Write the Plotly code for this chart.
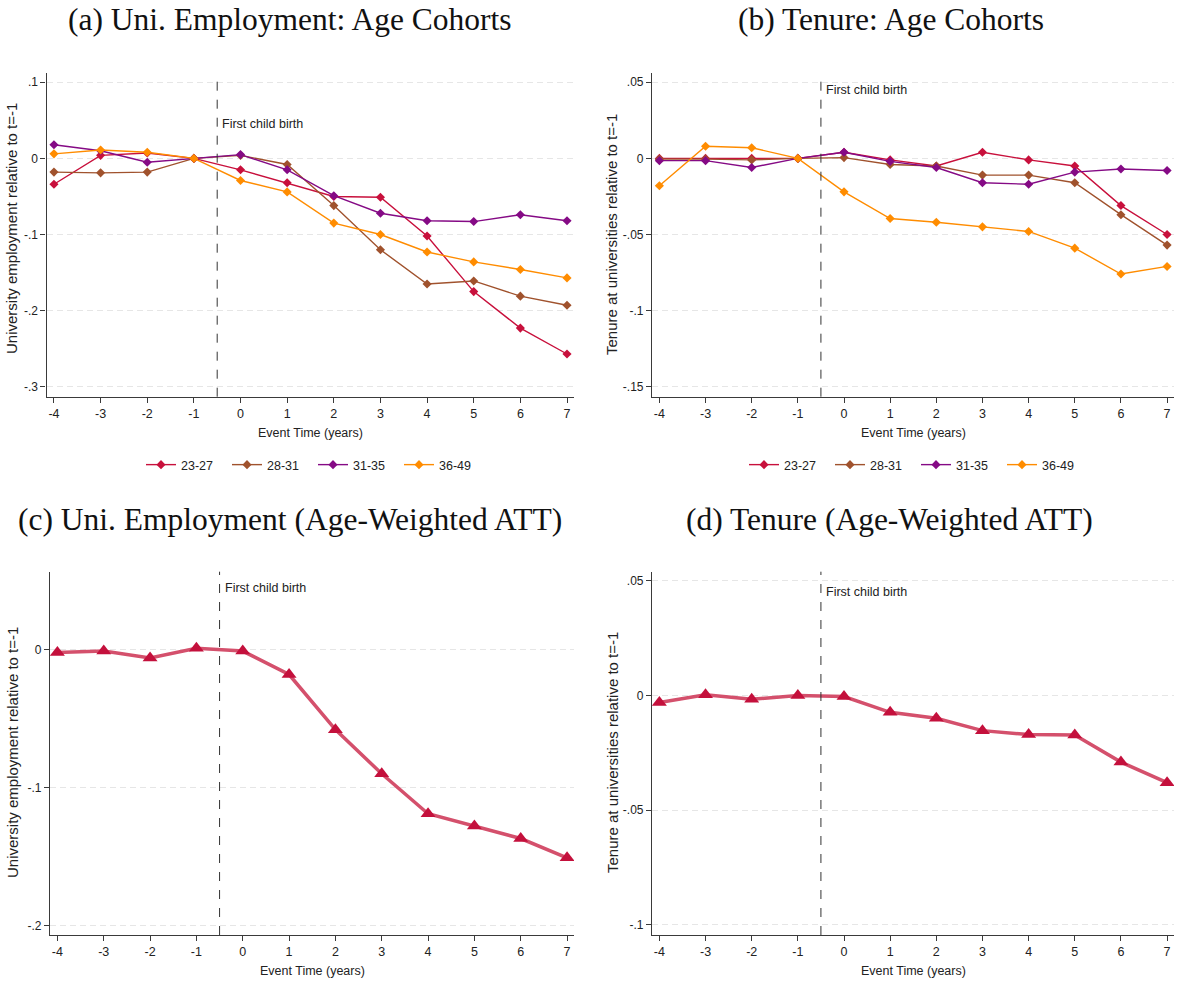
import plotly.graph_objects as go

# ---------------- data ----------------
event_time = [-4, -3, -2, -1, 0, 1, 2, 3, 4, 5, 6, 7]
cohorts = ["23-27", "28-31", "31-35", "36-49"]

emp_23_27 = [-0.034, 0.004, 0.007, 0.0, -0.015, -0.032, -0.050, -0.051, -0.102, -0.175, -0.223, -0.257]
emp_28_31 = [-0.018, -0.019, -0.018, 0.0, 0.004, -0.008, -0.062, -0.120, -0.165, -0.161, -0.181, -0.193]
emp_31_35 = [0.018, 0.010, -0.005, 0.0, 0.005, -0.015, -0.049, -0.072, -0.082, -0.083, -0.074, -0.082]
emp_36_49 = [0.006, 0.011, 0.008, 0.0, -0.029, -0.044, -0.085, -0.100, -0.123, -0.136, -0.146, -0.157]

ten_23_27 = [0.0, 0.0, 0.0, 0.0, 0.004, -0.001, -0.005, 0.004, -0.001, -0.005, -0.031, -0.050]
ten_28_31 = [-0.0005, -0.0005, -0.001, 0.0, 0.0005, -0.004, -0.005, -0.011, -0.011, -0.016, -0.037, -0.057]
ten_31_35 = [-0.0015, -0.0015, -0.006, 0.0, 0.004, -0.002, -0.006, -0.016, -0.017, -0.009, -0.007, -0.008]
ten_36_49 = [-0.018, 0.008, 0.007, 0.0, -0.022, -0.0395, -0.042, -0.045, -0.048, -0.059, -0.076, -0.071]

att_emp = [-0.002, -0.001, -0.006, 0.001, -0.001, -0.018, -0.058, -0.090, -0.119, -0.128, -0.137, -0.151]
att_ten = [-0.003, 0.0003, -0.0016, 0.0, -0.0004, -0.0073, -0.0099, -0.0153, -0.017, -0.0172, -0.029, -0.038]

yticks_a = [-0.3, -0.2, -0.1, 0.0, 0.1]
ylabels_a = ["-.3", "-.2", "-.1", "0", ".1"]
yticks_b = [-0.15, -0.1, -0.05, 0.0, 0.05]
ylabels_b = ["-.15", "-.1", "-.05", "0", ".05"]
yticks_c = [-0.2, -0.1, 0.0]
ylabels_c = ["-.2", "-.1", "0"]
yticks_d = [-0.1, -0.05, 0.0, 0.05]
ylabels_d = ["-.1", "-.05", "0", ".05"]

titles = ["(a) Uni. Employment: Age Cohorts", "(b) Tenure: Age Cohorts",
          "(c) Uni. Employment (Age-Weighted ATT)", "(d) Tenure (Age-Weighted ATT)"]
ylab_emp = "University employment relative to t=-1"
ylab_ten = "Tenure at universities relative to t=-1"
xlab = "Event Time (years)"
event_label = "First child birth"
event_x = -0.5

# ---------------- style ----------------
W, H = 1177, 984
NARROW = "Liberation Sans, Arial, sans-serif"
SANS = "Liberation Sans, Arial, sans-serif"
SERIF = "Liberation Serif, Times New Roman, serif"
cohort_colors = ["#C8103C", "#A0522D", "#850A85", "#FF8C00"]
att_line = "#D4506C"
att_marker = "#C4103C"
axis_col = "#3a3a3a"
txt_col = "#222"

def px_x(a, b):
    return [a / W, b / W]

def px_y(top, bottom):
    return [1 - bottom / H, 1 - top / H]

dom = {
    "a": (px_x(46.5, 574), px_y(72.7, 396.7)),
    "b": (px_x(652, 1174), px_y(72.7, 396.7)),
    "c": (px_x(50, 574), px_y(571.7, 935)),
    "d": (px_x(652, 1174), px_y(571.7, 935)),
}
yr = {
    "a": [-0.3131, 0.1126],
    "b": [-0.1566, 0.0563],
    "c": [-0.207, 0.0566],
    "d": [-0.1044, 0.054],
}
xr = [-4.16, 7.15]

fig = go.Figure()

emp_series = [emp_23_27, emp_28_31, emp_31_35, emp_36_49]
ten_series = [ten_23_27, ten_28_31, ten_31_35, ten_36_49]

for name, vals, col in zip(cohorts, emp_series, cohort_colors):
    fig.add_trace(go.Scatter(x=event_time, y=vals, mode="lines+markers", name=name,
                             line=dict(color=col, width=1.4),
                             marker=dict(symbol="diamond", size=7, color=col),
                             xaxis="x", yaxis="y", legend="legend"))
for name, vals, col in zip(cohorts, ten_series, cohort_colors):
    fig.add_trace(go.Scatter(x=event_time, y=vals, mode="lines+markers", name=name,
                             line=dict(color=col, width=1.4),
                             marker=dict(symbol="diamond", size=7, color=col),
                             xaxis="x2", yaxis="y2", legend="legend2"))

fig.add_trace(go.Scatter(x=event_time, y=att_emp, mode="lines+markers", showlegend=False,
                         line=dict(color=att_line, width=3.5),
                         marker=dict(symbol="triangle-up", size=13, color=att_marker),
                         xaxis="x3", yaxis="y3"))
fig.add_trace(go.Scatter(x=event_time, y=att_ten, mode="lines+markers", showlegend=False,
                         line=dict(color=att_line, width=3.5),
                         marker=dict(symbol="triangle-up", size=13, color=att_marker),
                         xaxis="x4", yaxis="y4"))

def xaxis_cfg(key, anchor):
    return dict(domain=dom[key][0], range=xr, anchor=anchor,
                tickvals=event_time, ticktext=[str(v) for v in event_time],
                showgrid=False, zeroline=False, showline=True, linecolor=axis_col, linewidth=1.2,
                ticks="outside", ticklen=5, tickcolor=axis_col, tickwidth=1,
                tickfont=dict(family=NARROW, size=12.5, color=txt_col), fixedrange=True)

def yaxis_cfg(key, anchor, tv, tt):
    return dict(domain=dom[key][1], range=yr[key], anchor=anchor,
                tickvals=tv, ticktext=tt,
                showgrid=True, gridcolor="#e6e6e6", gridwidth=1, griddash="6px,4px",
                zeroline=False, showline=True, linecolor=axis_col, linewidth=1.2,
                ticks="outside", ticklen=5, tickcolor=axis_col, tickwidth=1,
                tickfont=dict(family=NARROW, size=12, color=txt_col), fixedrange=True)

leg_common = dict(orientation="h", y=1 - 465 / H, yanchor="middle",
                  font=dict(family=NARROW, size=12.5, color=txt_col),
                  entrywidth=41, entrywidthmode="pixels", bgcolor="rgba(0,0,0,0)")

fig.update_layout(
    width=W, height=H, margin=dict(l=0, r=0, t=0, b=0),
    paper_bgcolor="white", plot_bgcolor="white",
    xaxis=xaxis_cfg("a", "y"), yaxis=yaxis_cfg("a", "x", yticks_a, ylabels_a),
    xaxis2=xaxis_cfg("b", "y2"), yaxis2=yaxis_cfg("b", "x2", yticks_b, ylabels_b),
    xaxis3=xaxis_cfg("c", "y3"), yaxis3=yaxis_cfg("c", "x3", yticks_c, ylabels_c),
    xaxis4=xaxis_cfg("d", "y4"), yaxis4=yaxis_cfg("d", "x4", yticks_d, ylabels_d),
    legend=dict(x=313 / W, xanchor="center", **leg_common),
    legend2=dict(x=916 / W, xanchor="center", **leg_common),
    showlegend=True,
)

axes_ids = [("x", "y"), ("x2", "y2"), ("x3", "y3"), ("x4", "y4")]
for xa, ya in axes_ids:
    fig.add_shape(type="line", xref=xa, yref=f"{ya} domain", x0=event_x, x1=event_x, y0=0, y1=1,
                  line=dict(color="#333", width=1, dash="dash"))
    fig.add_annotation(xref=xa, yref=ya, x=event_x, y=0.045, text=event_label, showarrow=False,
                       xanchor="left", yanchor="middle", xshift=3,
                       font=dict(family=NARROW, size=12.5, color=txt_col))

# panel titles
title_pos = [(290, 20), (891, 20), (290, 519), (889, 519)]
for t, (cx, cy) in zip(titles, title_pos):
    fig.add_annotation(xref="paper", yref="paper", x=cx / W, y=1 - cy / H, text=t, showarrow=False,
                       xanchor="center", yanchor="middle", font=dict(family=SERIF, size=31.5, color="#111"))

# y-axis titles
ylab_pos = [(12, 229, ylab_emp), (612, 235, ylab_ten), (12, 753, ylab_emp), (612, 753, ylab_ten)]
for cx, cy, t in ylab_pos:
    fig.add_annotation(xref="paper", yref="paper", x=cx / W, y=1 - cy / H, text=t, showarrow=False,
                       textangle=-90, xanchor="center", yanchor="middle",
                       font=dict(family=SANS, size=15, color=txt_col))

# x-axis titles
xlab_pos = [(310, 433), (913, 433), (312, 971), (913, 971)]
for cx, cy in xlab_pos:
    fig.add_annotation(xref="paper", yref="paper", x=cx / W, y=1 - cy / H, text=xlab, showarrow=False,
                       xanchor="center", yanchor="middle", font=dict(family=NARROW, size=12.5, color=txt_col))

fig.write_html("out.html", config={"displayModeBar": False},
               post_script="document.body.style.margin='0';document.body.style.overflow='hidden';")
